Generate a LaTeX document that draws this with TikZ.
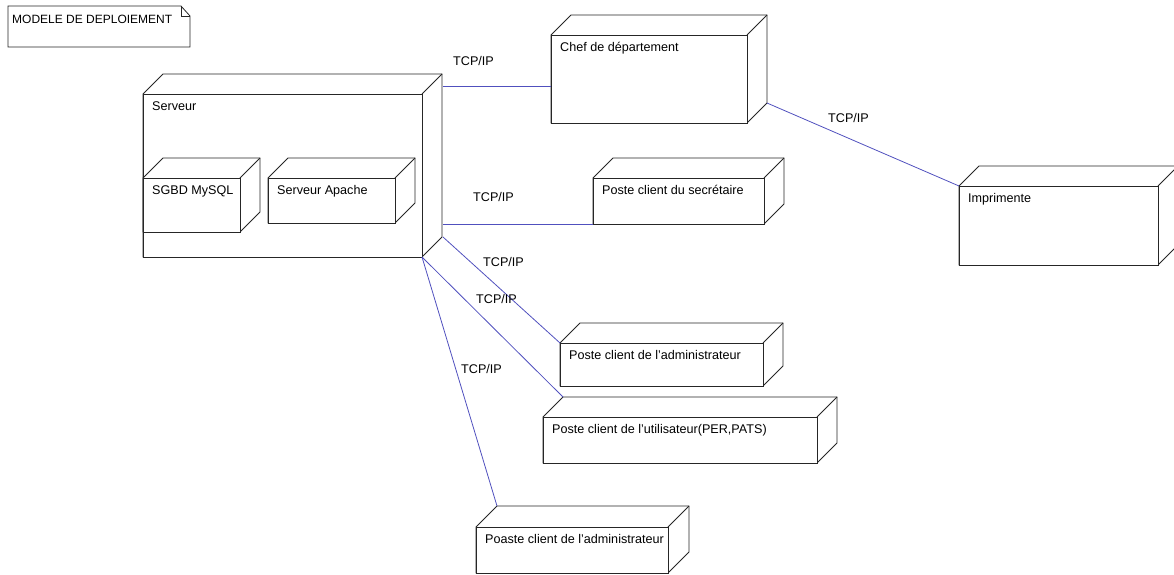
\documentclass[tikz,border=0pt]{standalone}
\usepackage{fontspec}
\setmainfont{Liberation Sans}
\definecolor{linkblue}{RGB}{80,80,190}
\newcommand{\apos}{\char39\relax}
\begin{document}
\begin{tikzpicture}[x=1pt,y=-1pt,
  edge/.style={draw=black!85,line width=0.8pt,line join=miter},
  face/.style={edge,fill=white,rectangle,inner sep=0pt,outer sep=0pt},
  lbl/.style={inner sep=0pt,anchor=base west,font=\fontsize{12.6}{15}\selectfont},
  link/.style={draw=linkblue,line width=0.8pt}]
\useasboundingbox (0,0) rectangle (1174,574);

% 3D deployment node: name, left, top, width, height, depth, label
\newcommand{\udbox}[7]{%
  \path[edge,fill=white] (#2,#3) -- ++(#6,-#6) -- ++(#4,0) -- ++(0,#5) -- ++(-#6,#6) -- ++(-#4,0) -- cycle;
  \node[face,anchor=north west,minimum width=#4pt,minimum height=#5pt] (#1) at (#2,#3) {};
  \draw[edge] (#1.north east) -- ++(#6,-#6);
  \coordinate (#1-back) at (#2+#6,#3-#6);
  \coordinate (#1-backse) at (#2+#4+#6,#3+#5-#6);
  \node[lbl] at (#2+9,#3+16) {#7};
}

% title note with folded corner
\draw[edge,fill=white] (8,6) -- (181,6) -- (190,16) -- (190,47) -- (8,47) -- cycle;
\draw[edge] (181,6) -- (181,16) -- (190,16);
\node[lbl,font=\fontsize{12}{14}\selectfont] (note) at (12,23) {MODELE DE DEPLOIEMENT};

% nodes
\udbox{srv}{143}{94}{279}{163}{20}{Serveur}
\udbox{sgbd}{143}{178}{97}{54}{20}{SGBD MySQL}
\udbox{apache}{268}{178}{127}{45}{20}{Serveur Apache}
\udbox{chef}{551}{35}{196}{88}{20}{Chef de département}
\udbox{prn}{959}{186}{199}{79}{20}{Imprimente}
\udbox{sec}{593}{178}{171}{46}{20}{Poste client du secrétaire}
\udbox{adm}{560}{343}{203}{43}{20}{Poste client de l\apos administrateur}
\udbox{usr}{543}{417}{274}{46}{20}{Poste client de l\apos utilisateur(PER,PATS)}
\udbox{adm2}{476}{527}{192}{46}{21}{Poaste client de l\apos administrateur}

% attachment points on the server's side face
\coordinate (srv-p1) at (443,86.5);
\coordinate (srv-p2) at (443,224);
\coordinate (srv-p3) at (443,237);
\coordinate (chef-in) at (551,86.5);

% links
\draw[link] (srv-p1) -- (chef-in);
\draw[link] (srv-p2) -- (sec.south west);
\draw[link] (chef-backse) -- (prn.north west);
\draw[link] (srv-p3) -- (adm.north west);
\draw[link] (srv.south east) -- (usr-back);
\draw[link] (srv.south east) -- (adm2-back);

% link labels
\node[lbl] (t1) at (453,65) {TCP/IP};
\node[lbl] (t2) at (473,201) {TCP/IP};
\node[lbl] (t3) at (828,122) {TCP/IP};
\node[lbl] (t4) at (483,266) {TCP/IP};
\node[lbl] (t5) at (476,303) {TCP/IP};
\node[lbl] (t6) at (461,373) {TCP/IP};
\end{tikzpicture}
\end{document}
